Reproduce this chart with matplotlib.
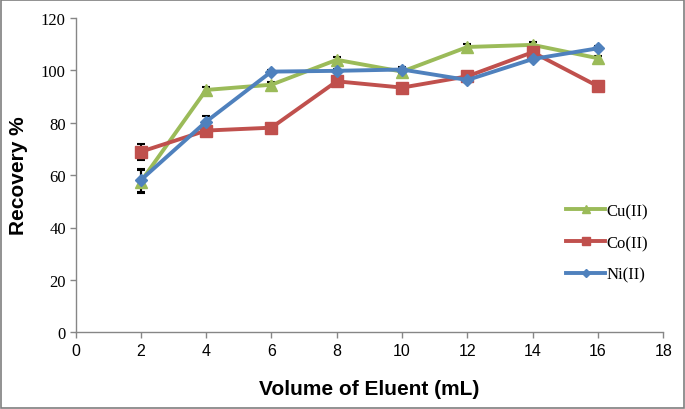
import matplotlib.pyplot as plt
from matplotlib.patches import Rectangle

# ---------------------- data ----------------------
volume = [2, 4, 6, 8, 10, 12, 14, 16]

cu = [57.5, 92.5, 94.5, 104.0, 99.5, 108.9, 109.7, 104.6]
co = [68.9, 77.0, 78.1, 95.8, 93.4, 97.7, 106.9, 93.9]
ni = [58.1, 80.4, 99.5, 99.8, 100.3, 96.3, 104.3, 108.4]

cu_err = [4.4, 1.0, 1.0, 1.0, 0.8, 1.0, 1.0, 1.0]
co_err = [3.0, 1.5, 1.5, 0.8, 0.8, 0.8, 0.8, 0.8]
ni_err = [4.4, 2.0, 0.8, 0.8, 0.8, 0.8, 0.8, 0.8]

x_ticks = [0, 2, 4, 6, 8, 10, 12, 14, 16, 18]
y_ticks = [0, 20, 40, 60, 80, 100, 120]

# ---------------------- plot ----------------------
narrow = ['Liberation Sans Narrow', 'Liberation Sans', 'DejaVu Sans']
serif = ['Liberation Serif', 'DejaVu Serif']

fig = plt.figure(figsize=(6.85, 4.1), dpi=100)
ax = fig.add_axes([75.5 / 685, 1 - 333.3 / 410, (663.3 - 75.5) / 685, (333.3 - 18.9) / 410])

series = [
    ('Cu(II)', cu, cu_err, '#9BBB59', '^', 8),
    ('Co(II)', co, co_err, '#C0504D', 's', 8),
    ('Ni(II)', ni, ni_err, '#4F81BD', 'D', 6),
]
for label, vals, err, color, marker, ms in series:
    ax.errorbar(volume, vals, yerr=err, fmt='none', ecolor='black',
                elinewidth=1.5, capsize=3, capthick=1.5, zorder=2)
    ax.plot(volume, vals, color=color, lw=2.8, marker=marker, ms=ms,
            label=label, zorder=3)

ax.set_xlim(0, 18)
ax.set_ylim(0, 120)
ax.set_xticks(x_ticks)
ax.set_yticks(y_ticks)

for side in ['top', 'right']:
    ax.spines[side].set_visible(False)
for side in ['left', 'bottom']:
    ax.spines[side].set_color('#868686')
    ax.spines[side].set_linewidth(1)
ax.tick_params(axis='both', direction='out', length=4, color='#868686', width=1)
ax.tick_params(axis='x', labelsize=11.5, labelfontfamily='Liberation Sans')
ax.tick_params(axis='y', pad=3, labelsize=12, labelfontfamily='Liberation Serif')

ax.set_xlabel('Volume of Eluent (mL)', family=narrow, fontsize=15, fontweight='bold', labelpad=15)
ax.set_ylabel('Recovery %', family=narrow, fontsize=15, fontweight='bold', labelpad=9)

leg = ax.legend(loc='center left', bbox_to_anchor=(566 / 685, 1 - 244 / 410),
                bbox_transform=fig.transFigure, frameon=False, borderpad=0,
                borderaxespad=0, handlelength=2.35, handletextpad=0.1,
                labelspacing=0.95, markerscale=0.75,
                prop={'family': serif, 'size': 12})

fig.patches.append(Rectangle((0.0015, 0.0025), 0.997, 0.995, transform=fig.transFigure,
                             fill=False, edgecolor='#7f7f7f', lw=1.2))

plt.savefig('out.png', dpi=100)
